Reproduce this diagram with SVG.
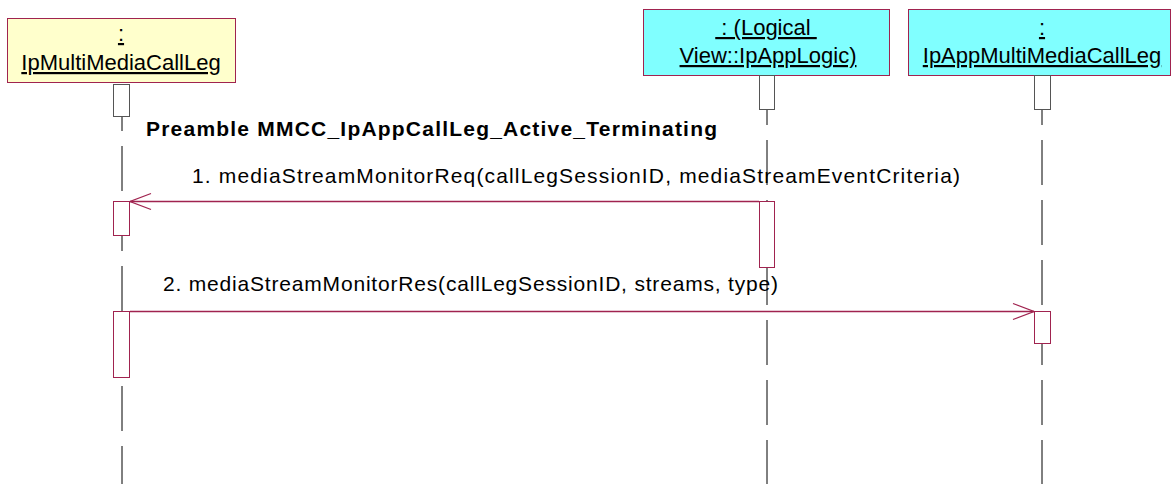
<svg xmlns="http://www.w3.org/2000/svg" width="1171" height="484" viewBox="0 0 1171 484">
<style>
.obj{stroke:#A0234F;stroke-width:1}
.yel{fill:#FFFFCC}
.cyan{fill:#80FFFF}
.lbl{font-family:"Liberation Sans",Arial,sans-serif;font-size:22px;fill:#000;text-anchor:middle;text-decoration:underline}
.life{stroke:#000;stroke-width:1;stroke-dasharray:45 15;fill:none}
.act0{fill:#fff;stroke:#555;stroke-width:1}
.act{fill:#fff;stroke:#A0234F;stroke-width:1}
.msg{stroke:#A0234F;stroke-width:1.3;fill:none}
.mtxt{font-family:"Liberation Sans",Arial,sans-serif;font-size:21px;fill:#000}
.pre{font-family:"Liberation Sans",Arial,sans-serif;font-size:21px;font-weight:bold;fill:#000}
</style>
<g id="lifelines">
<line class="life" x1="122" y1="117" x2="122" y2="484" stroke-dashoffset="31"/>
<line class="life" x1="767" y1="110" x2="767" y2="484" stroke-dashoffset="30"/>
<line class="life" x1="1042" y1="110" x2="1042" y2="484" stroke-dashoffset="30"/>
</g>
<g id="node-ipmultimediacallleg">
<rect class="obj yel" x="7.5" y="18.5" width="228" height="64"/>
<text class="lbl" x="121" y="41">:</text>
<text class="lbl" x="121" y="70">IpMultiMediaCallLeg</text>
<rect class="act0" x="113.5" y="84.5" width="16" height="32"/>
</g>
<g id="node-ipapplogic">
<rect class="obj cyan" x="643.5" y="9.5" width="246" height="66"/>
<text class="lbl" x="766" y="35" xml:space="preserve"> : (Logical </text>
<text class="lbl" x="768" y="63">View::IpAppLogic)</text>
<rect class="act0" x="759.5" y="75.5" width="15" height="34"/>
</g>
<g id="node-ipappmultimediacallleg">
<rect class="obj cyan" x="908.5" y="9.5" width="262" height="66"/>
<text class="lbl" x="1042" y="35">:</text>
<text class="lbl" x="1042" y="63">IpAppMultiMediaCallLeg</text>
<rect class="act0" x="1034.5" y="75.5" width="16" height="34"/>
</g>
<g id="activations">
<rect class="act" x="113.5" y="201.5" width="16" height="34"/>
<rect class="act" x="759.5" y="201.5" width="15" height="66"/>
<rect class="act" x="113.5" y="311.5" width="16" height="66"/>
<rect class="act" x="1034.5" y="311.5" width="16" height="32"/>
</g>
<text id="preamble" class="pre" x="146" y="136" textLength="571" lengthAdjust="spacing">Preamble MMCC_IpAppCallLeg_Active_Terminating</text>
<g id="connectors">
<g id="msg1">
<line class="msg" x1="759" y1="201.5" x2="130" y2="201.5"/>
<polyline class="msg" points="151,193.5 130,201.5 151,209.5"/>
<text class="mtxt" x="192" y="183" textLength="768" lengthAdjust="spacing">1. mediaStreamMonitorReq(callLegSessionID, mediaStreamEventCriteria)</text>
</g>
<g id="msg2">
<line class="msg" x1="130" y1="311.5" x2="1034" y2="311.5"/>
<polyline class="msg" points="1013,303.5 1034,311.5 1013,319.5"/>
<text class="mtxt" x="163" y="291" textLength="615" lengthAdjust="spacing">2. mediaStreamMonitorRes(callLegSessionID, streams, type)</text>
</g>
</g>
</svg>
